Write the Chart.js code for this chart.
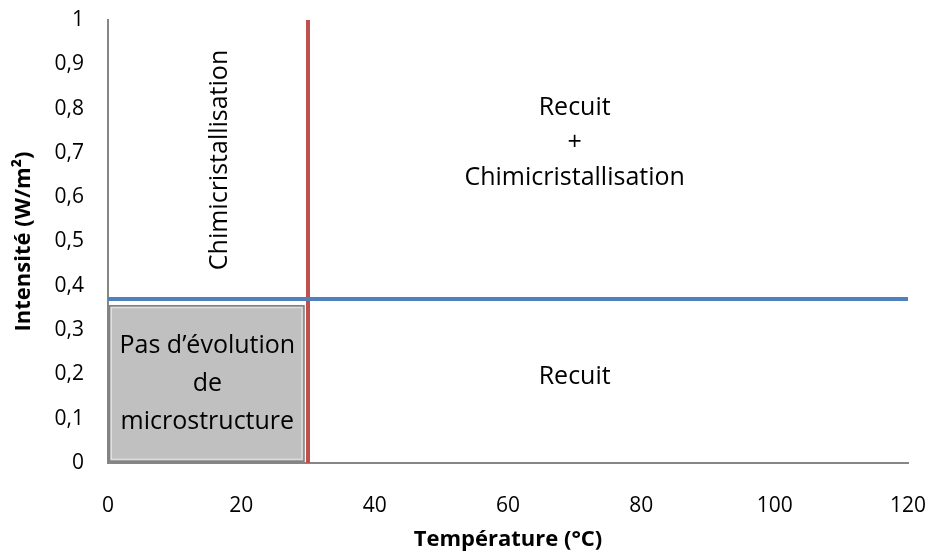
<!DOCTYPE html>
<html>
<head>
<meta charset="utf-8">
<script src="https://cdn.jsdelivr.net/npm/chart.js@4/dist/chart.umd.min.js"></script>
<style>
  html, body { margin: 0; padding: 0; background: #fff; }
  #wrap { width: 935px; height: 554px; }
</style>
</head>
<body>
<div id="wrap"><canvas id="chart" width="935" height="554"></canvas></div>
<script>
// Chart data
const xTicks = [0, 20, 40, 60, 80, 100, 120];
const yTicks = [0, 0.1, 0.2, 0.3, 0.4, 0.5, 0.6, 0.7, 0.8, 0.9, 1];

// red line: temperature limit
const redX = [30, 30];
const redY = [0, 1];

// blue line: intensity limit
const blueX = [0, 120];
const blueY = [0.37, 0.37];

// grey zone (no evolution)
const boxX = [0.2, 29.4];
const boxY = [0.004, 0.355];

// zone labels (x, y in data units)
const zoneText = ['Chimicristallisation', 'Recuit', '+', 'Chimicristallisation', 'Recuit',
                  'Pas d\u2019évolution', 'de', 'microstructure'];
const zoneX = [16.8, 70, 70, 70, 70, 14.9, 14.9, 14.9];
const zoneY = [0.684, 0.801, 0.722, 0.643, 0.194, 0.264, 0.178, 0.093];
const zoneRot = [true, false, false, false, false, false, false, false];

const FONT = '"Open Sans", "Noto Sans", sans-serif';

// Draw the grey rectangle under the lines
const boxPlugin = {
    id: 'box',
    beforeDatasetsDraw(chart) {
        const ctx = chart.ctx;
        const xs = chart.scales.x;
        const ys = chart.scales.y;
        const x1 = xs.getPixelForValue(boxX[0]);
        const x2 = xs.getPixelForValue(boxX[1]);
        const y1 = ys.getPixelForValue(boxY[1]);
        const y2 = ys.getPixelForValue(boxY[0]);
        ctx.save();
        ctx.fillStyle = '#c0c0c0';
        ctx.fillRect(x1, y1, x2 - x1, y2 - y1);
        ctx.strokeStyle = '#808080';
        ctx.lineWidth = 1.5;
        ctx.strokeRect(x1, y1, x2 - x1, y2 - y1);
        ctx.strokeStyle = '#e6e6e6';
        ctx.lineWidth = 1;
        ctx.strokeRect(x1 + 2, y1 + 2, x2 - x1 - 4, y2 - y1 - 4);
        ctx.restore();
    }
};

// Draw the zone labels
const textPlugin = {
    id: 'zoneText',
    afterDatasetsDraw(chart) {
        const ctx = chart.ctx;
        const xs = chart.scales.x;
        const ys = chart.scales.y;
        ctx.save();
        ctx.fillStyle = '#000';
        ctx.font = '25px ' + FONT;
        ctx.textAlign = 'center';
        ctx.textBaseline = 'middle';
        zoneText.forEach((t, i) => {
            const px = xs.getPixelForValue(zoneX[i]);
            const py = ys.getPixelForValue(zoneY[i]);
            ctx.save();
            ctx.translate(px, py);
            if (zoneRot[i]) ctx.rotate(-Math.PI / 2);
            ctx.fillText(t, 0, 0);
            ctx.restore();
        });
        ctx.restore();
    }
};

const toPoints = (xs, ys) => xs.map((x, i) => ({ x: x, y: ys[i] }));

new Chart(document.getElementById('chart'), {
    type: 'line',
    data: {
        datasets: [
            {
                data: toPoints(blueX, blueY),
                borderColor: '#4f81bd',
                borderWidth: 4,
                pointRadius: 0
            },
            {
                data: toPoints(redX, redY),
                borderColor: '#c0504d',
                borderWidth: 4,
                borderCapStyle: 'round',
                pointRadius: 0
            }
        ]
    },
    options: {
        responsive: false,
        animation: false,
        layout: { padding: { top: 20, right: 27, left: 0, bottom: 0 } },
        plugins: {
            legend: { display: false },
            tooltip: { enabled: false }
        },
        scales: {
            x: {
                type: 'linear',
                min: 0,
                max: 120,
                afterBuildTicks: s => { s.ticks = xTicks.map(v => ({ value: v })); },
                afterFit: s => { s.height = 91; s.paddingLeft = 0; s.paddingRight = 0; },
                grid: { display: false },
                border: { display: true, color: '#868686', width: 2 },
                ticks: {
                    color: '#000',
                    padding: 22,
                    maxRotation: 0,
                    font: { family: FONT, size: 21 }
                },
                title: {
                    display: true,
                    text: 'Température (°C)',
                    color: '#000',
                    padding: { top: 0, bottom: 1 },
                    font: { family: FONT, size: 22, weight: 'bold' }
                }
            },
            y: {
                type: 'linear',
                min: 0,
                max: 1,
                afterBuildTicks: s => { s.ticks = yTicks.map(v => ({ value: v })); },
                afterFit: s => { s.width = 108; s.paddingTop = 0; s.paddingBottom = 0; },
                grid: { display: false },
                border: { display: true, color: '#868686', width: 2 },
                ticks: {
                    color: '#000',
                    padding: 16,
                    font: { family: FONT, size: 21 },
                    callback: v => String(Math.round(v * 10) / 10).replace('.', ',')
                },
                title: {
                    display: true,
                    text: 'Intensité (W/m²)',
                    color: '#000',
                    padding: { top: 11, bottom: 0 },
                    font: { family: FONT, size: 22, weight: 'bold' }
                }
            }
        }
    },
    plugins: [boxPlugin, textPlugin]
});
</script>
</body>
</html>
